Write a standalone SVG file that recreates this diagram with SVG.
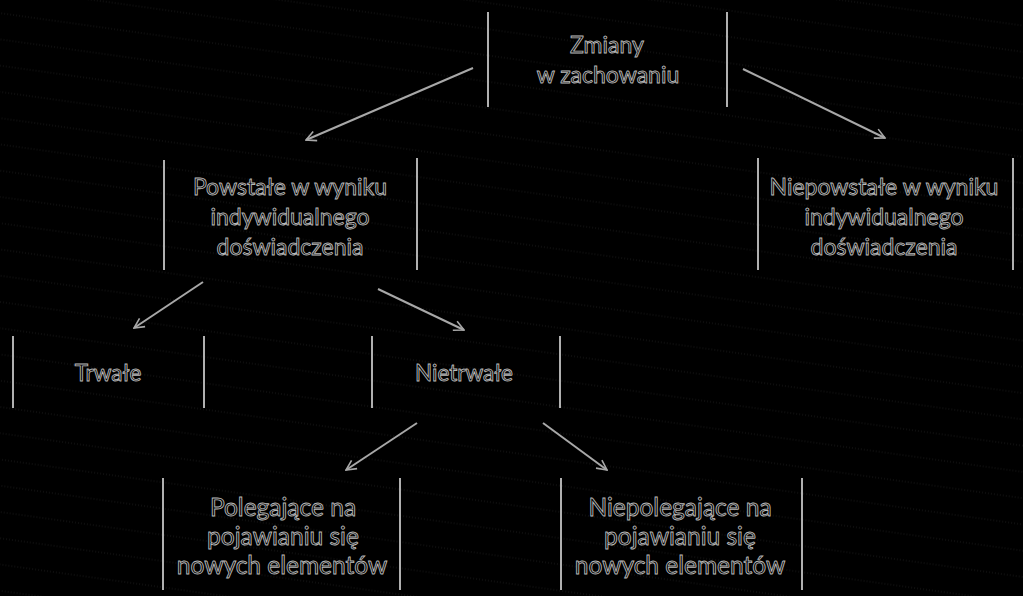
<svg xmlns="http://www.w3.org/2000/svg" width="1023" height="596" viewBox="0 0 1023 596">
<defs>
<marker id="arr" viewBox="0 0 12 12" refX="11" refY="6" markerWidth="12" markerHeight="12" markerUnits="userSpaceOnUse" orient="auto">
<path d="M1,1 L11,6 L1,11" fill="none" stroke="#a8a8a8" stroke-width="1.6"/>
</marker>
<pattern id="tex" width="60" height="26" patternUnits="userSpaceOnUse" patternTransform="rotate(8)">
<line x1="0" y1="13" x2="60" y2="13" stroke="#1c1c1c" stroke-width="1" stroke-dasharray="1 2"/>
</pattern>
</defs>
<style>
.side{stroke:#b0b0b0;stroke-width:2;fill:none}
.t{font-family:Lato,"Open Sans",sans-serif;font-size:23px;fill:#000;stroke:#b8b8b8;stroke-width:0.9;text-anchor:middle}
.tm{font-family:Lato,"Open Sans",sans-serif;font-size:22.5px;fill:#000;stroke:#b8b8b8;stroke-width:0.9;text-anchor:middle}
.tb{font-family:Lato,"Open Sans",sans-serif;font-size:24.5px;fill:#000;stroke:#b8b8b8;stroke-width:0.9;text-anchor:middle}
.c{stroke:#a8a8a8;stroke-width:2;fill:none;marker-end:url(#arr)}
</style>
<rect width="1023" height="596" fill="#000"/>
<rect width="1023" height="596" fill="url(#tex)"/>
<g id="connectors">
<line class="c" x1="473" y1="68" x2="306" y2="140"/>
<line class="c" x1="743" y1="69" x2="885" y2="138"/>
<line class="c" x1="203" y1="282" x2="134" y2="328"/>
<line class="c" x1="378" y1="289" x2="464" y2="330"/>
<line class="c" x1="417" y1="423" x2="346" y2="470"/>
<line class="c" x1="543" y1="423" x2="607" y2="470"/>
</g>
<g id="zmiany">
<line class="side" x1="488" y1="12" x2="488" y2="107"/>
<line class="side" x1="727" y1="12" x2="727" y2="107"/>
<text class="t" x="607" y="53">Zmiany</text>
<text class="t" x="608" y="83">w zachowaniu</text>
</g>
<g id="powstale">
<line class="side" x1="164" y1="160" x2="164" y2="270"/>
<line class="side" x1="417" y1="158" x2="417" y2="270"/>
<text class="t" x="290" y="195">Powstałe w wyniku</text>
<text class="t" x="290" y="225">indywidualnego</text>
<text class="t" x="290" y="255">doświadczenia</text>
</g>
<g id="niepowstale">
<line class="side" x1="758" y1="158" x2="758" y2="270"/>
<line class="side" x1="1013" y1="158" x2="1013" y2="270"/>
<text class="t" x="884" y="195">Niepowstałe w wyniku</text>
<text class="t" x="884" y="225">indywidualnego</text>
<text class="t" x="884" y="255">doświadczenia</text>
</g>
<g id="trwale">
<line class="side" x1="13" y1="336" x2="13" y2="408"/>
<line class="side" x1="204" y1="336" x2="204" y2="408"/>
<text class="tm" x="108" y="381">Trwałe</text>
</g>
<g id="nietrwale">
<line class="side" x1="372" y1="336" x2="372" y2="408"/>
<line class="side" x1="560" y1="336" x2="560" y2="408"/>
<text class="tm" x="464" y="381">Nietrwałe</text>
</g>
<g id="polegajace">
<line class="side" x1="163" y1="478" x2="163" y2="590"/>
<line class="side" x1="400" y1="478" x2="400" y2="590"/>
<text class="tb" x="283" y="516">Polegające na</text>
<text class="tb" x="283" y="545">pojawianiu się</text>
<text class="tb" x="282" y="574">nowych elementów</text>
</g>
<g id="niepolegajace">
<line class="side" x1="561" y1="478" x2="561" y2="590"/>
<line class="side" x1="802" y1="478" x2="802" y2="590"/>
<text class="tb" x="680" y="516">Niepolegające na</text>
<text class="tb" x="680" y="545">pojawianiu się</text>
<text class="tb" x="680" y="574">nowych elementów</text>
</g>
</svg>
